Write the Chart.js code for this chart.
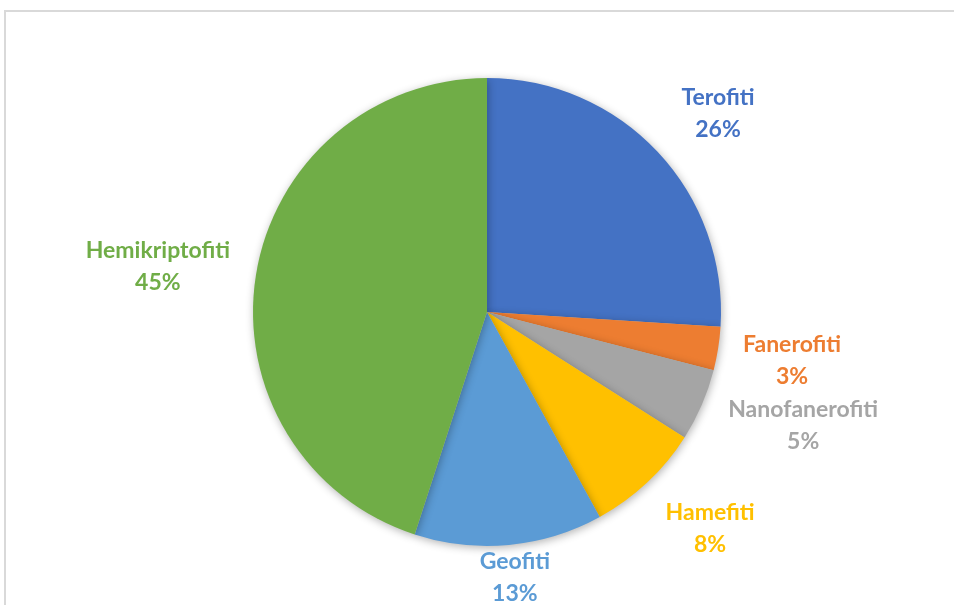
<!DOCTYPE html>
<html>
<head>
<meta charset="utf-8">
<script src="https://cdn.jsdelivr.net/npm/chart.js@4.4.1/dist/chart.umd.min.js"></script>
<style>
    html, body { margin: 0; padding: 0; background: #fff; overflow: hidden; }
    #frame { position: absolute; left: 4px; top: 10px; width: 1000px; height: 700px; border: 2px solid #d9d9d9; box-sizing: border-box; }
    #wrap { position: absolute; left: 0; top: 0; width: 954px; height: 605px; }
</style>
</head>
<body>
<div id="frame"></div>
<div id="wrap"><canvas id="pieChart"></canvas></div>
<script>
const categories = ["Terofiti", "Fanerofiti", "Nanofanerofiti", "Hamefiti", "Geofiti", "Hemikriptofiti"];
const shares = [26, 3, 5, 8, 13, 45];
const sliceColors = ["#4472C4", "#ED7D31", "#A5A5A5", "#FFC000", "#5B9BD5", "#70AD47"];
// how far out each label sits (in radii), with a small angle nudge in degrees
const labelDistance = [1.30, 1.32, 1.435, 1.33, 1.14, 1.42];
const labelNudge = [2.6, 0, -3.7, -2.6, -0.6, -1.1];

document.addEventListener("DOMContentLoaded", function () {
    const ctx = document.getElementById("pieChart").getContext("2d");

    // soft drop shadow under the pie like the office chart
    const shadowPlugin = {
        id: "pieShadow",
        beforeDatasetDraw(chart) {
            chart.ctx.save();
            chart.ctx.shadowColor = "rgba(0,0,0,0.3)";
            chart.ctx.shadowBlur = 8;
            chart.ctx.shadowOffsetX = 1;
            chart.ctx.shadowOffsetY = 2;
        },
        afterDatasetDraw(chart) {
            chart.ctx.restore();
        }
    };

    const labelPlugin = {
        id: "outsideLabels",
        afterDraw(chart) {
            const c = chart.ctx;
            const meta = chart.getDatasetMeta(0);
            c.save();
            c.font = "bold 23px Lato";
            c.textAlign = "center";
            c.textBaseline = "middle";
            meta.data.forEach((arc, i) => {
                const mid = (arc.startAngle + arc.endAngle) / 2 + labelNudge[i] * Math.PI / 180;
                const dist = arc.outerRadius * labelDistance[i];
                const x = arc.x + Math.cos(mid) * dist;
                const y = arc.y + Math.sin(mid) * dist;
                c.fillStyle = sliceColors[i];
                c.fillText(categories[i], x, y - 16);
                c.fillText(shares[i] + "%", x, y + 16);
            });
            c.restore();
        }
    };

    new Chart(ctx, {
        type: "pie",
        data: {
            labels: categories,
            datasets: [{
                data: shares,
                backgroundColor: sliceColors,
                borderWidth: 0
            }]
        },
        options: {
            responsive: true,
            maintainAspectRatio: false,
            animation: false,
            layout: { padding: { top: 78, bottom: 59, left: 200, right: 180 } },
            plugins: { legend: { display: false }, tooltip: { enabled: false } }
        },
        plugins: [shadowPlugin, labelPlugin]
    });
});
</script>
</body>
</html>
